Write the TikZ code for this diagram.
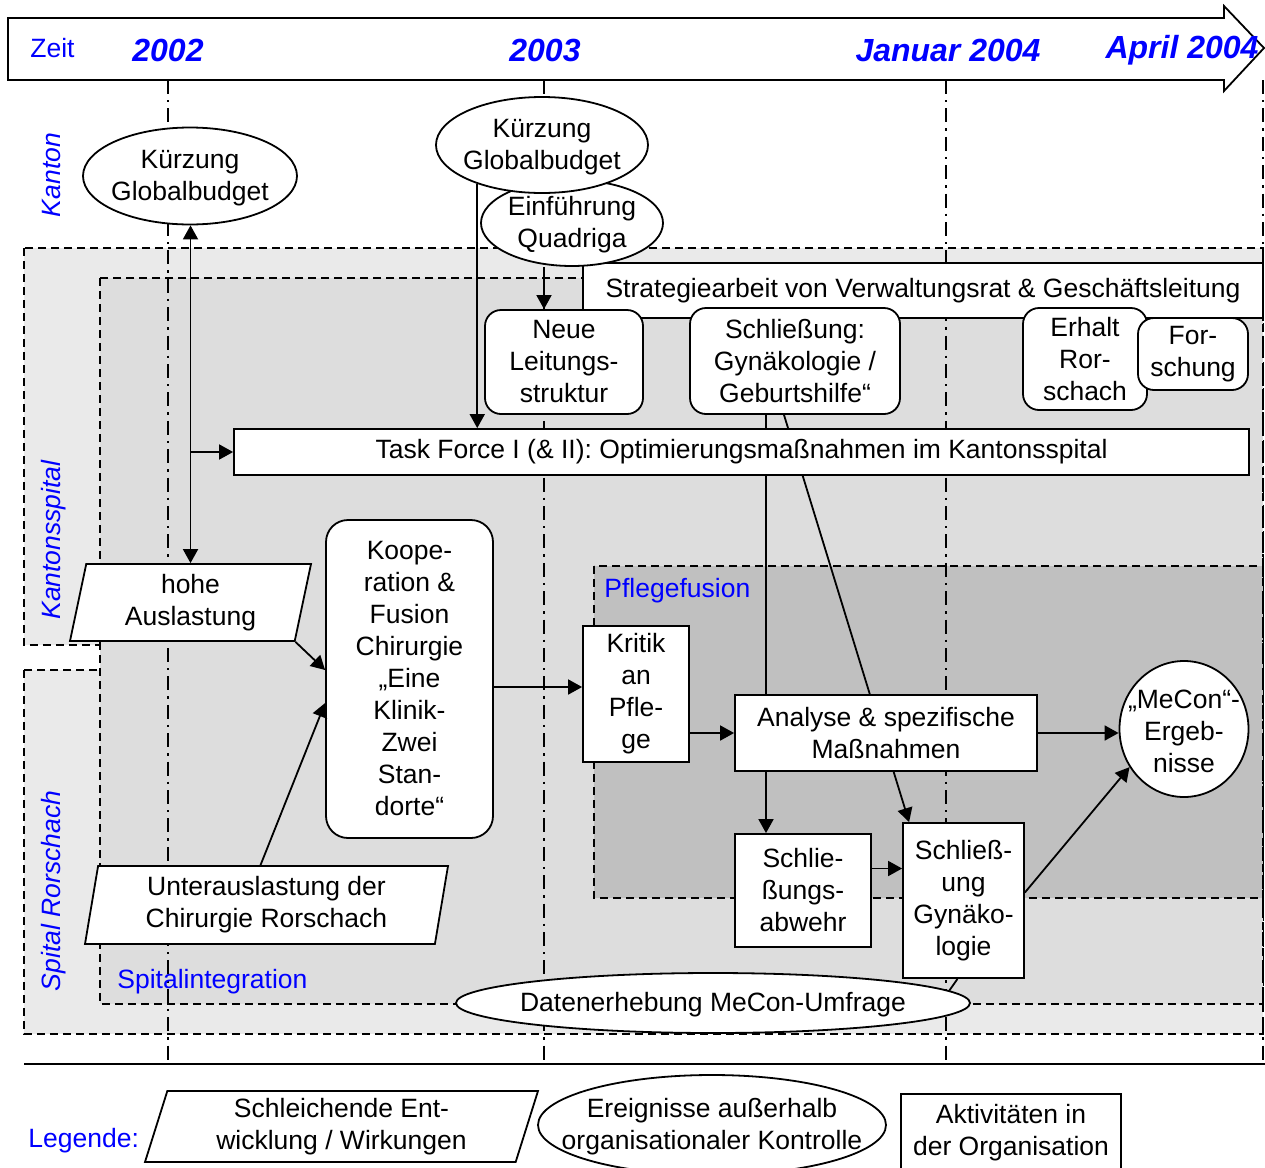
\documentclass[tikz,border=0pt]{standalone}
\usepackage{fontspec}
\setmainfont{Liberation Sans}
\usetikzlibrary{shapes.geometric,arrows.meta}
\definecolor{zeitblau}{RGB}{0,0,255}
\definecolor{hellgrau}{RGB}{234,234,234}
\definecolor{mittelgrau}{RGB}{221,221,221}
\definecolor{dunkelgrau}{RGB}{192,192,192}
\pgfdeclarelayer{back}
\pgfdeclarelayer{mid}
\pgfsetlayers{back,mid,main}
\tikzset{
  verb/.style={line width=0.9pt},
  arr/.style={verb,->},
  box/.style={draw,fill=white,line width=0.9pt,inner sep=0pt,align=center},
  rbox/.style={box,rounded corners=8pt},
  event/.style={ellipse,draw,fill=white,line width=0.9pt,inner sep=0pt},
  drift/.style={trapezium,trapezium stretches body,draw,fill=white,line width=0.9pt,inner sep=0pt,align=center},
  zone/.style={line width=0.8pt,dash pattern=on 4pt off 2.5pt},
  zeitlinie/.style={line width=0.9pt,dash pattern=on 7pt off 3pt on 1.2pt off 3pt},
  marke/.style={text=zeitblau,inner sep=0pt},
  jahr/.style={marke,font=\fontsize{16}{19}\selectfont\bfseries\itshape},
  ebene/.style={marke,rotate=90,anchor=base,font=\fontsize{13.25}{16}\selectfont\itshape},
  every label/.style={align=center,yshift=-1pt}
}

\begin{document}
\begin{tikzpicture}[x=0.5pt,y=-0.5pt,font=\fontsize{13.25}{16}\selectfont,>={Triangle[length=7pt,width=7.5pt]}]
\useasboundingbox (0,0) rectangle (1265,1168);
\begin{pgfonlayer}{back}
\filldraw[zone,fill=hellgrau] (24,248) rectangle (1263,645);
\filldraw[zone,fill=hellgrau] (24,670) rectangle (1263,1034);
\filldraw[zone,fill=mittelgrau] (100,278) rectangle (1263,1004);
\filldraw[zone,fill=dunkelgrau] (594,566) rectangle (1263,898);
\foreach \x in {168,544,946,1263}
  \draw[zeitlinie] (\x,80) -- (\x,1064);
\end{pgfonlayer}
% Zeitachse
\draw[verb,fill=white] (8,18) -- (1224,18) -- (1224,6) -- (1264,48) -- (1224,91) -- (1224,80) -- (8,80) -- cycle;
\node[marke,anchor=west] (zeit) at (30,48) {Zeit};
\node[jahr] (j2002) at (168,50) {2002};
\node[jahr] (j2003) at (545,50) {2003};
\node[jahr] (januar) at (948,50) {Januar 2004};
\node[jahr] (april) at (1182,50) {April 2004};
\node[ebene] (kanton) at (61,175) {Kanton};
\node[ebene] (kantonsspital) at (61,540) {Kantonsspital};
\node[ebene] (rorschach) at (61,891) {Spital Rorschach};
\node[marke,anchor=base west] (pflegefusion) at (604,597) {Pflegefusion};
\node[marke,anchor=base west] (integration) at (117,988) {Spitalintegration};

\node[event,minimum width=107pt,minimum height=48.5pt,label={center:Kürzung\\Globalbudget}] (kuerzung1) at (190,176) {};
\node[box,minimum width=340pt,minimum height=27.5pt] (strategie) at (923,290.5) {Strategiearbeit von Verwaltungsrat \& Geschäftsleitung};
\node[event,minimum width=91pt,minimum height=43pt,label={center:Einführung\\Quadriga}] (quadriga) at (572,223) {};
\node[event,minimum width=106pt,minimum height=48pt,label={center:Kürzung\\Globalbudget}] (kuerzung2) at (542,145) {};
\node[rbox,minimum width=79pt,minimum height=52pt] (leitung) at (564,362) {Neue\\Leitungs-\\struktur};
\node[rbox,minimum width=105pt,minimum height=53pt] (schliessung) at (795,361) {Schließung:\\Gynäkologie /\\Geburtshilfe“};
\node[rbox,minimum width=62pt,minimum height=51pt] (erhalt) at (1085,359) {Erhalt\\Ror-\\schach};
\node[rbox,minimum width=55pt,minimum height=36pt] (forschung) at (1193,354) {For-\\schung};
\node[box,minimum width=507.5pt,minimum height=23pt] (taskforce) at (741.5,452) {Task Force I (\& II): Optimierungsmaßnahmen im Kantonsspital};
\node[drift,trapezium left angle=74,trapezium right angle=106,minimum width=120.5pt,minimum height=38.5pt] (hohe) at (190.5,602.5) {hohe\\Auslastung};
\node[rbox,rounded corners=11pt,minimum width=83.5pt,minimum height=159pt] (kooperation) at (409.5,679) {Koope-\\ration \&\\Fusion\\Chirurgie\\„Eine\\Klinik-\\Zwei\\Stan-\\dorte“};
\node[drift,trapezium left angle=77,trapezium right angle=103,minimum width=181.5pt,minimum height=39pt] (unter) at (266.5,905) {Unterauslastung der\\Chirurgie Rorschach};
\node[box,minimum width=53pt,minimum height=68pt] (kritik) at (636,694) {Kritik\\an\\Pfle-\\ge};
\node[box,minimum width=151pt,minimum height=38pt] (analyse) at (886,733) {Analyse \& spezifische\\Maßnahmen};
\node[box,minimum width=68pt,minimum height=56.5pt] (abwehr) at (803,890.5) {Schlie-\\ßungs-\\abwehr};
\node[box,minimum width=60.5pt,minimum height=77.5pt] (gynaekologie) at (963.5,900.5) {Schließ-\\ung\\Gynäko-\\logie};
\node[event,minimum width=64.5pt,minimum height=68pt,label={center:„MeCon“-\\Ergeb-\\nisse}] (mecon) at (1184,729) {};
\node[event,minimum width=257pt,minimum height=30pt,label={center:Datenerhebung MeCon-Umfrage}] (umfrage) at (713,1003) {};

\draw[arr,<->] (hohe.north |- kuerzung1.south) -- (hohe.north);
\draw[arr] (hohe.north |- taskforce.west) -- (taskforce.west);
\draw[arr] (kuerzung2.211) -- (kuerzung2.211 |- taskforce.north);
\draw[arr] ([xshift=-10pt]leitung.north |- quadriga.south) -- ([xshift=-10pt]leitung.north);
\draw[arr] (hohe.bottom right corner) -- ([yshift=4.5pt]kooperation.west);
\draw[arr] ([xshift=-3pt]unter.north) -- ([yshift=-12pt]kooperation.west);
\draw[arr] ([yshift=-4pt]kooperation.east) -- ([yshift=-4pt]kooperation.east -| kritik.west);
\draw[arr] (kritik.east |- analyse.west) -- (analyse.west);
\draw[arr] (analyse.east) -- (analyse.east -| mecon.west);
\draw[arr] ([yshift=11pt]abwehr.east) -- ([yshift=11pt]abwehr.east -| gynaekologie.west);
\draw[arr] ([yshift=4pt]gynaekologie.east) -- (mecon.215);
\draw[verb] (umfrage.3) -- ([xshift=-3pt]gynaekologie.south);
\begin{pgfonlayer}{mid}
\draw[arr] ([xshift=-18.5pt]abwehr.north |- schliessung.south) -- ([xshift=-18.5pt]abwehr.north);
\draw[arr] ([xshift=-5.5pt]schliessung.south) -- ([xshift=3.5pt]gynaekologie.north west);
\end{pgfonlayer}

% Legende
\draw[verb] (24,1064) -- (1265,1064);
\node[marke,anchor=base west] (legende) at (28,1147) {Legende:};
\node[drift,trapezium left angle=68.5,trapezium right angle=111.5,minimum width=196.5pt,minimum height=35.5pt] (legdrift) at (341.5,1126.5) {Schleichende Ent-\\wicklung / Wirkungen};
\node[event,minimum width=174pt,minimum height=50pt,label={center:Ereignisse außerhalb\\organisationaler Kontrolle}] (legevent) at (712,1125) {};
\node[box,minimum width=110pt,minimum height=39pt] (legbox) at (1011,1133) {Aktivitäten in\\der Organisation};
\end{tikzpicture}
\end{document}
